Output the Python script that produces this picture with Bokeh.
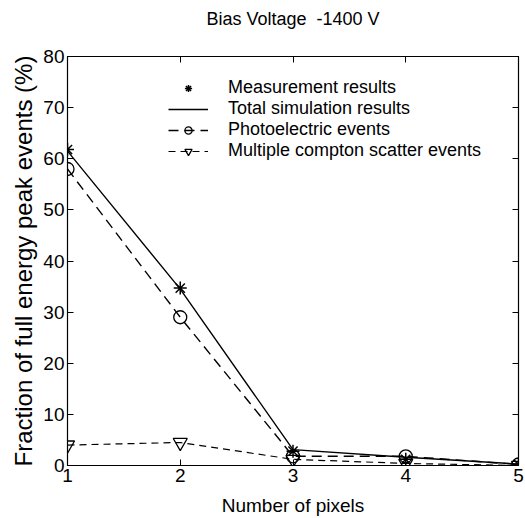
from bokeh.plotting import figure
from bokeh.models import Legend, LegendItem, LinearAxis, FixedTicker, Range1d, ColumnDataSource, CustomJSTickFormatter
from bokeh.embed import file_html
from bokeh.resources import INLINE

pixels = [1, 2, 3, 4, 5]
measurement = [61.8, 34.7, 2.8, 1.2, 0.2]
total_sim = [61.5, 34.5, 3.1, 1.6, 0.3]
photoelectric = [58.0, 29.0, 1.8, 1.8, 0.2]
compton = [4.0, 4.5, 1.2, 0.4, 0.0]
x_ticks = [1, 2, 3, 4, 5]
y_ticks = [0, 10, 20, 30, 40, 50, 60, 70, 80]
title_text = "Bias Voltage \u00a0-1400 V"

FONT = "Liberation Sans"

p = figure(width=525, height=518, output_backend="svg", toolbar_location=None,
           x_range=Range1d(1, 5), y_range=Range1d(0, 80),
           min_border_left=67, min_border_right=7, min_border_top=56, min_border_bottom=53)
p.grid.visible = False
p.outline_line_color = "black"
p.outline_line_width = 1.2
p.background_fill_color = "white"
p.border_fill_color = "white"

src = ColumnDataSource(dict(x=pixels, m=measurement, t=total_sim, ph=photoelectric, c=compton))

r_total = p.line("x", "t", source=src, line_color="black", line_width=1.4)
r_ph_line = p.line("x", "ph", source=src, line_color="black", line_width=1.4, line_dash="10 6")
r_c_line = p.line("x", "c", source=src, line_color="black", line_width=1.2, line_dash="7 5")
r_m = p.scatter("x", "m", source=src, marker="asterisk", size=13, line_color="black", line_width=1.5)
r_ph = p.scatter("x", "ph", source=src, marker="circle", size=13, fill_alpha=0,
                 line_color="black", line_width=1.3)
r_c = p.scatter("x", "c", source=src, marker="inverted_triangle", size=14, fill_alpha=0,
                line_color="black", line_width=1.3)

for ax in (p.xaxis[0], p.yaxis[0]):
    ax.ticker = FixedTicker(ticks=x_ticks if ax is p.xaxis[0] else y_ticks)
    ax.major_tick_in = 6
    ax.major_tick_out = 0
    ax.minor_tick_line_color = None
    ax.axis_line_color = "black"
    ax.major_label_text_font = FONT
    ax.major_label_text_font_size = "19px"
    ax.major_label_text_color = "black"
    ax.axis_label_text_font = FONT
    ax.axis_label_text_font_style = "normal"
    ax.axis_label_text_color = "black"

p.xaxis[0].axis_label = "Number of pixels"
p.xaxis[0].axis_label_text_font_size = "19px"
p.xaxis[0].major_label_standoff = 3
p.xaxis[0].axis_label_standoff = 10
p.yaxis[0].axis_label = "Fraction of full energy peak events (%)"
p.yaxis[0].axis_label_text_font_size = "24px"
p.yaxis[0].major_label_standoff = 3
p.yaxis[0].axis_label_standoff = 3

blank = CustomJSTickFormatter(code="return '';")
top_ax = LinearAxis(ticker=FixedTicker(ticks=x_ticks), major_tick_in=6, major_tick_out=0,
                    minor_tick_line_color=None, formatter=blank, major_label_text_font_size="1px",
                    major_label_standoff=0, axis_line_color="black",
                    axis_label=title_text, axis_label_text_font=FONT,
                    axis_label_text_font_size="18px", axis_label_text_font_style="normal",
                    axis_label_text_color="black", axis_label_standoff=28)
right_ax = LinearAxis(ticker=FixedTicker(ticks=y_ticks), major_tick_in=6, major_tick_out=0,
                      minor_tick_line_color=None, formatter=blank, major_label_text_font_size="1px",
                      major_label_standoff=0, axis_line_color="black")
p.add_layout(top_ax, "above")
p.add_layout(right_ax, "right")

legend = Legend(items=[
    LegendItem(label="Measurement results", renderers=[r_m]),
    LegendItem(label="Total simulation results", renderers=[r_total]),
    LegendItem(label="Photoelectric events", renderers=[r_ph_line, r_ph]),
    LegendItem(label="Multiple compton scatter events", renderers=[r_c_line, r_c]),
], location=(101, 304), orientation="vertical")
legend.border_line_alpha = 0
legend.background_fill_alpha = 0
legend.label_text_font = FONT
legend.label_text_font_size = "18px"
legend.label_text_color = "black"
legend.glyph_width = 40
legend.glyph_height = 18
legend.label_height = 18
legend.spacing = 0
legend.padding = 0
legend.margin = 0
legend.label_standoff = 20
p.add_layout(legend, "center")

open("out.html", "w").write(file_html(p, INLINE))
